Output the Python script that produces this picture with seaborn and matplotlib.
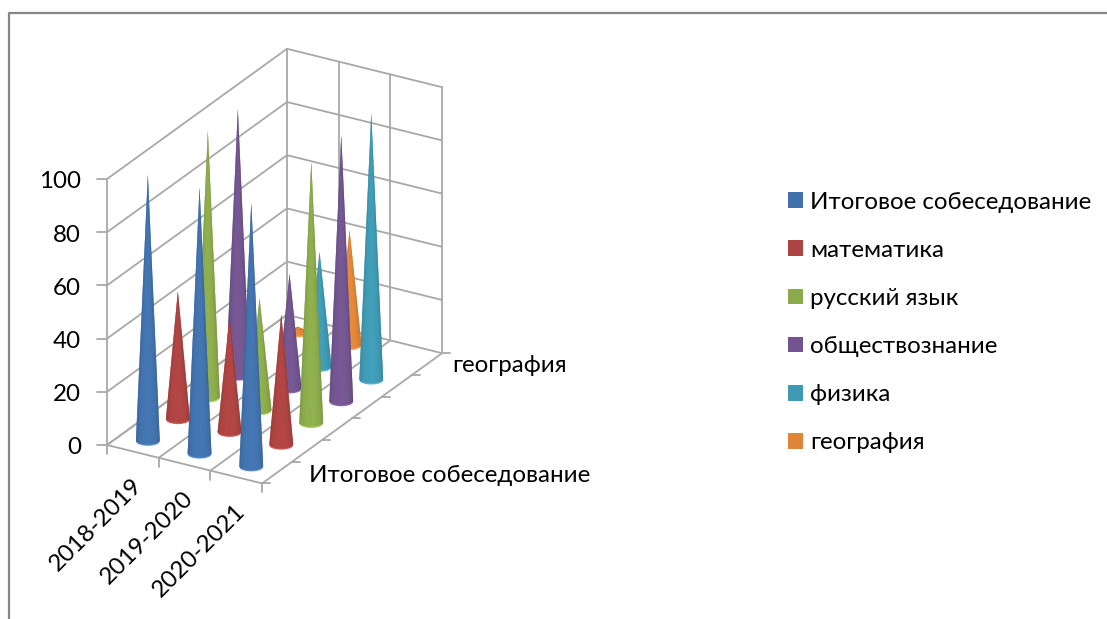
import numpy as np
import pandas as pd
import matplotlib
matplotlib.use("Agg")
import matplotlib.pyplot as plt
from matplotlib.collections import PolyCollection
from matplotlib.patches import Patch, Polygon
import seaborn as sb

years = ["2018-2019", "2019-2020", "2020-2021"]
subjects = ["Итоговое собеседование", "математика", "русский язык",
            "обществознание", "физика", "география"]
interview = [100, 100, 99]
maths = [48, 43, 49]
russian = [100, 42, 98]
social = [100, 43, 100]
physics = [0, 43, 100]
geography = [2, 43, 0]
series = [interview, maths, russian, social, physics, geography]
yticks = [0, 20, 40, 60, 80, 100]
colors = ["#4272AC", "#AC4442", "#8BAA4C", "#72558F", "#3F99B2", "#DF853A"]

sb.set_theme(style="white")
plt.rcParams['font.family'] = ['Lato', 'Noto Sans', 'DejaVu Sans']

W, H = 1107, 619
FS = 17.4
fig = plt.figure(figsize=(W / 100, H / 100), dpi=100)
ax = fig.add_axes([0, 0, 1, 1])
ax.set_xlim(0, W)
ax.set_ylim(H, 0)
ax.axis('off')

GRID = "#A8A8A8"
# oblique projection of the excel 3d box, pixels per unit
ORIGIN = (107.0, 445.0)
CAT = (51.7, 12.8)
SER = (30.0, -21.7)
VAL = 2.66


def proj(c, s, v=0.0):
    return (ORIGIN[0] + c * CAT[0] + s * SER[0],
            ORIGIN[1] + c * CAT[1] + s * SER[1] - v * VAL)


def shade(col, n):
    # light from the front, dark at both sides of the cone
    rgb = np.array(matplotlib.colors.to_rgb(col))
    t = np.linspace(0, 1, n)
    k = 0.74 + 0.32 * np.sin(np.pi * t) ** 0.6
    return np.clip(rgb[None, :] * k[:, None], 0, 1)


def cone(c, s, v, col):
    cx, cy = proj(c + .5, s + .5)
    tx, ty = proj(c + .5, s + .5, v)
    rx, ry = 11.9, 4.6
    n = 40
    a = np.linspace(np.pi, 0, n + 1)
    px = cx + rx * np.cos(a)
    py = cy + ry * np.sin(a)
    z = 3 + cy / 1000
    # solid cone below the wedges so the seams do not let the grid through
    outline = [(tx, ty)] + list(zip(px, py))
    ax.add_patch(Polygon(outline, closed=True, facecolor=matplotlib.colors.to_rgb(col),
                         edgecolor='none', zorder=z))
    polys = [[(tx, ty), (px[i], py[i]), (px[i + 1], py[i + 1])] for i in range(n)]
    ax.add_collection(PolyCollection(polys, facecolors=shade(col, n), edgecolors='none',
                                     linewidths=0, zorder=z))
    rim = np.clip(np.array(matplotlib.colors.to_rgb(col)) * 1.22, 0, 1)
    ax.plot(px[6:-6], py[6:-6], color=rim, lw=1.0, alpha=0.8, zorder=z, solid_capstyle='round')


# walls and floor grid
segs = []
for v in yticks:
    segs.append([proj(0, 0, v), proj(0, 6, v)])
    segs.append([proj(0, 6, v), proj(3, 6, v)])
for c in range(4):
    segs.append([proj(c, 6, 0), proj(c, 6, 100)])
    segs.append([proj(c, 0, 0), proj(c, 6, 0)])
segs.append([proj(0, 0, 0), proj(0, 0, 100)])
segs.append([proj(0, 0, 0), proj(3, 0, 0)])
rows = []
for i, sg in enumerate(segs):
    for p in sg:
        rows.append({"seg": i, "x": p[0], "y": p[1]})
grid = pd.DataFrame(rows)
sb.lineplot(data=grid, x="x", y="y", units="seg", estimator=None, sort=False,
            color=GRID, lw=1.3, ax=ax, legend=False, zorder=1)
ax.set_xlim(0, W)
ax.set_ylim(H, 0)

# ticks
for v in yticks:
    x0, y0 = proj(0, 0, v)
    ax.plot([x0 - 10, x0], [y0, y0], color=GRID, lw=1.3, zorder=1)
    ax.text(x0 - 26, y0 + 3, str(v), ha='right', va='center', fontsize=FS, color='black')
for c in range(4):
    x0, y0 = proj(c, 0)
    ax.plot([x0, x0], [y0, y0 + 9], color=GRID, lw=1.3, zorder=1)
for s in range(7):
    x0, y0 = proj(3, s)
    ax.plot([x0, x0 + 8], [y0, y0], color=GRID, lw=1.3, zorder=1)

for c, lab in enumerate(years):
    x0, y0 = proj(c + .5, 0)
    ax.text(x0 - 2, y0 + 23, lab, rotation=45, ha='right', va='top',
            rotation_mode='anchor', fontsize=FS, color='black')

ax.text(309, 476, subjects[0], ha='left', va='center', fontsize=FS, color='black')
ax.text(452, 366, subjects[5], ha='left', va='center', fontsize=FS, color='black')

# cones, back to front
order = []
for s, vals in enumerate(series):
    for c, v in enumerate(vals):
        if v > 0:
            order.append((proj(c + .5, s + .5)[1], c, s, v))
for _, c, s, v in sorted(order):
    cone(c, s, v, colors[s])

# outer frame, only top and left are on the picture
ax.plot([9, 9, W], [H, 13, 13], color="#868686", lw=1.6, zorder=1)

handles = [Patch(facecolor=sb.color_palette(colors)[i], edgecolor='none') for i in range(6)]
ax.legend(handles, subjects, loc='center left', bbox_to_anchor=(788 / W, 1 - 322.5 / H),
          frameon=False, fontsize=FS, labelcolor='black', handlelength=0.62, handleheight=0.62,
          handletextpad=0.29, labelspacing=1.125, borderpad=0, borderaxespad=0)

fig.savefig("out.png", dpi=100)
